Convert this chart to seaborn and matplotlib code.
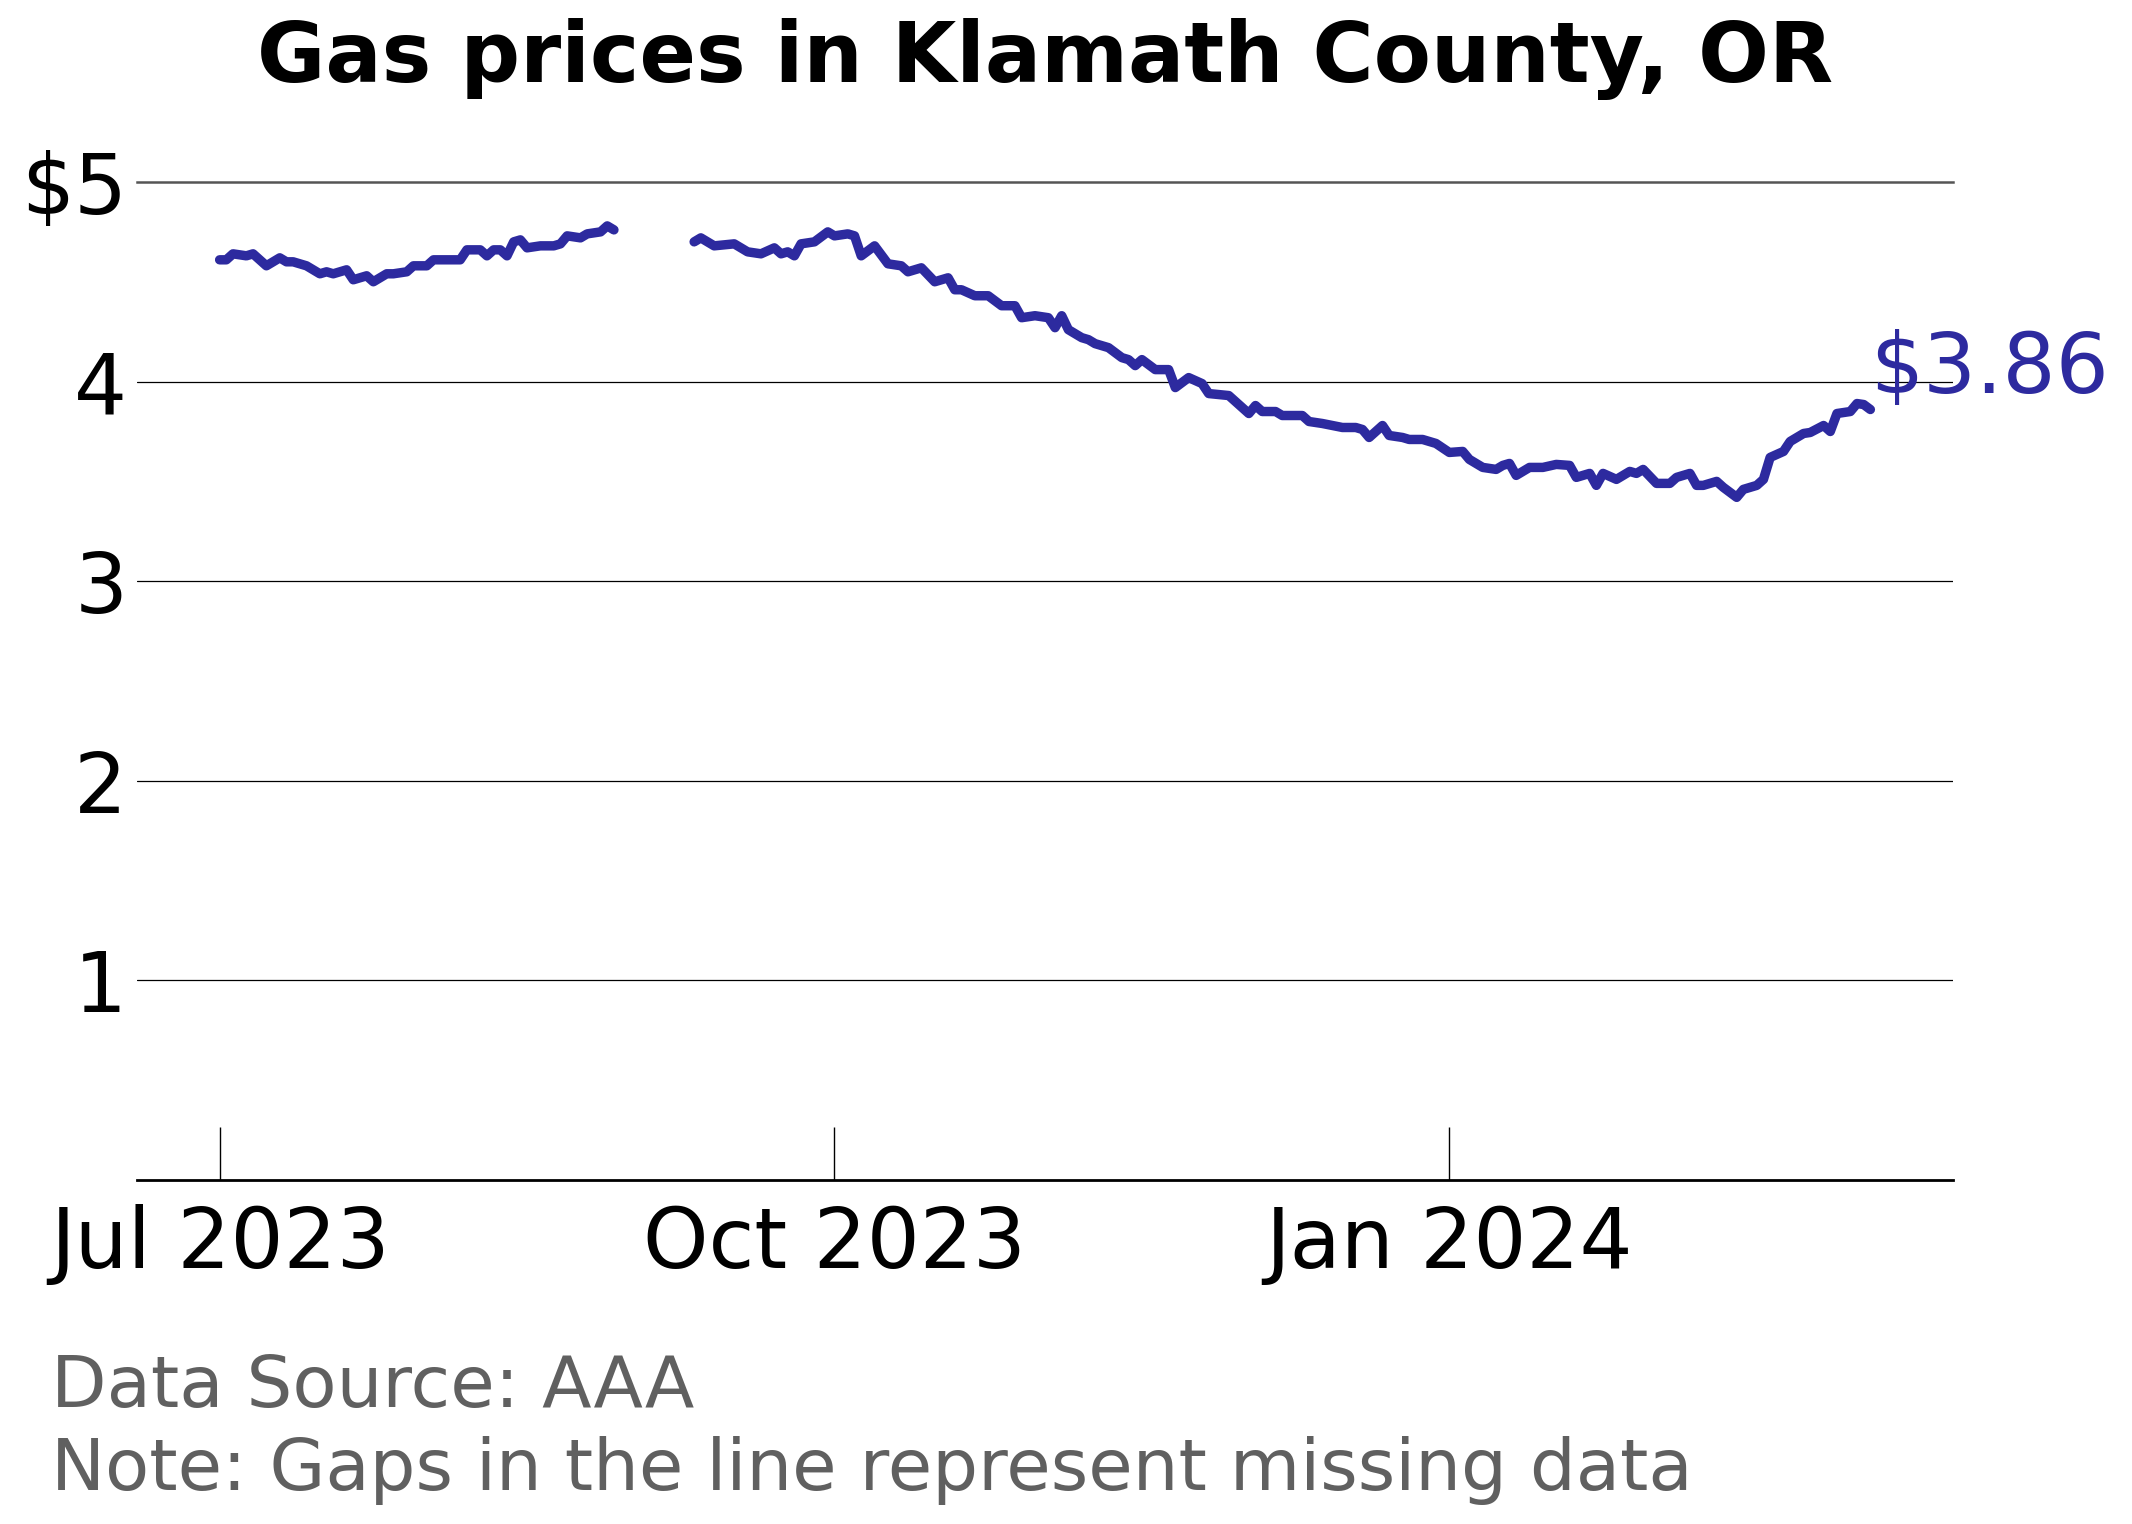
import numpy as np
import pandas as pd
import matplotlib
matplotlib.use("Agg")
import matplotlib.pyplot as plt
import matplotlib.dates as mdates
from matplotlib.ticker import FixedLocator, FixedFormatter
import seaborn as sns

# price readings, two stretches with a hole between them (missing data)
fechas_1 = [
    "2023-07-01", "2023-07-02", "2023-07-03", "2023-07-05", "2023-07-06", "2023-07-08",
    "2023-07-10", "2023-07-11", "2023-07-12", "2023-07-14", "2023-07-16", "2023-07-17",
    "2023-07-18", "2023-07-20", "2023-07-21", "2023-07-23", "2023-07-24", "2023-07-26",
    "2023-07-27", "2023-07-29", "2023-07-30", "2023-08-01", "2023-08-02", "2023-08-04",
    "2023-08-06", "2023-08-07", "2023-08-09", "2023-08-10", "2023-08-11", "2023-08-12",
    "2023-08-13", "2023-08-14", "2023-08-15", "2023-08-16", "2023-08-18", "2023-08-20",
    "2023-08-21", "2023-08-22", "2023-08-24", "2023-08-25", "2023-08-27", "2023-08-28",
    "2023-08-29",
]
precios_1 = [
    4.61, 4.61, 4.64, 4.63, 4.64, 4.58,
    4.62, 4.60, 4.60, 4.58, 4.54, 4.55,
    4.54, 4.56, 4.51, 4.53, 4.50, 4.54,
    4.54, 4.55, 4.58, 4.58, 4.61, 4.61,
    4.61, 4.66, 4.66, 4.63, 4.66, 4.66,
    4.63, 4.70, 4.71, 4.67, 4.68, 4.68,
    4.69, 4.73, 4.72, 4.74, 4.75, 4.78,
    4.76,
]

fechas_2 = [
    "2023-09-10", "2023-09-11", "2023-09-13", "2023-09-16", "2023-09-18", "2023-09-20",
    "2023-09-22", "2023-09-23", "2023-09-24", "2023-09-25", "2023-09-26", "2023-09-28",
    "2023-09-30", "2023-10-01", "2023-10-03", "2023-10-04", "2023-10-05", "2023-10-07",
    "2023-10-09", "2023-10-11", "2023-10-12", "2023-10-14", "2023-10-16", "2023-10-18",
    "2023-10-19", "2023-10-20", "2023-10-22", "2023-10-24", "2023-10-26", "2023-10-28",
    "2023-10-29", "2023-10-31", "2023-11-02", "2023-11-03", "2023-11-04", "2023-11-05",
    "2023-11-07", "2023-11-08", "2023-11-09", "2023-11-11", "2023-11-13", "2023-11-14",
    "2023-11-15", "2023-11-16", "2023-11-18", "2023-11-20", "2023-11-21", "2023-11-23",
    "2023-11-25", "2023-11-26", "2023-11-29", "2023-11-30", "2023-12-02", "2023-12-03",
    "2023-12-04", "2023-12-06", "2023-12-07", "2023-12-10", "2023-12-11", "2023-12-13",
    "2023-12-16", "2023-12-18", "2023-12-19", "2023-12-20", "2023-12-22", "2023-12-23",
    "2023-12-25", "2023-12-26", "2023-12-28", "2023-12-30", "2024-01-01", "2024-01-03",
    "2024-01-04", "2024-01-06", "2024-01-08", "2024-01-09", "2024-01-10", "2024-01-11",
    "2024-01-13", "2024-01-15", "2024-01-17", "2024-01-19", "2024-01-20", "2024-01-22",
    "2024-01-23", "2024-01-24", "2024-01-26", "2024-01-28", "2024-01-29", "2024-01-30",
    "2024-02-01", "2024-02-03", "2024-02-04", "2024-02-06", "2024-02-07", "2024-02-08",
    "2024-02-10", "2024-02-11", "2024-02-13", "2024-02-14", "2024-02-16", "2024-02-17",
    "2024-02-18", "2024-02-20", "2024-02-21", "2024-02-23", "2024-02-24", "2024-02-26",
    "2024-02-27", "2024-02-28", "2024-03-01", "2024-03-02", "2024-03-03", "2024-03-04",
]
precios_2 = [
    4.70, 4.72, 4.68, 4.69, 4.65, 4.64,
    4.67, 4.64, 4.65, 4.63, 4.69, 4.70,
    4.75, 4.73, 4.74, 4.73, 4.63, 4.68,
    4.59, 4.58, 4.55, 4.57, 4.50, 4.52,
    4.46, 4.46, 4.43, 4.43, 4.38, 4.38,
    4.32, 4.33, 4.32, 4.27, 4.33, 4.26,
    4.22, 4.21, 4.19, 4.17, 4.12, 4.11,
    4.08, 4.11, 4.06, 4.06, 3.97, 4.02,
    3.99, 3.94, 3.93, 3.90, 3.84, 3.88,
    3.85, 3.85, 3.83, 3.83, 3.80, 3.79,
    3.77, 3.77, 3.76, 3.72, 3.78, 3.73,
    3.72, 3.71, 3.71, 3.69, 3.645, 3.65,
    3.61, 3.57, 3.56, 3.58, 3.59, 3.53,
    3.57, 3.57, 3.585, 3.58, 3.52, 3.54,
    3.48, 3.54, 3.51, 3.55, 3.54, 3.56,
    3.49, 3.49, 3.52, 3.54, 3.48, 3.48,
    3.50, 3.47, 3.42, 3.46, 3.48, 3.51,
    3.62, 3.65, 3.70, 3.74, 3.745, 3.78,
    3.75, 3.84, 3.85, 3.89, 3.885, 3.86,
]

y_ticks = [1, 2, 3, 4, 5]
y_labels = ["1", "2", "3", "4", "$5"]
color_linea = "#2d2a9f"


def main():
    df = pd.concat([
        pd.DataFrame({"fecha": pd.to_datetime(fechas_1), "precio": precios_1, "tramo": 1}),
        pd.DataFrame({"fecha": pd.to_datetime(fechas_2), "precio": precios_2, "tramo": 2}),
    ], ignore_index=True)

    sns.set_theme(style="white")
    plt.rcParams["font.family"] = ["DejaVu Sans"]
    plt.rcParams["text.color"] = "black"

    fig = plt.figure(figsize=(10.66, 7.62), dpi=200)
    ax = fig.add_axes([0.0643, 0.2257, 0.8517, 0.6549])

    # each stretch drawn on its own so the gap stays open
    for tramo, sub in df.groupby("tramo"):
        sns.lineplot(data=sub, x="fecha", y="precio", ax=ax, color=color_linea,
                     linewidth=3.4, solid_capstyle="round", solid_joinstyle="round")

    ax.set_ylim(0, 5)
    ax.margins(x=0.05)

    for v in y_ticks[:-1]:
        ax.axhline(v, color="black", linewidth=0.45, zorder=0)

    ax.yaxis.set_major_locator(FixedLocator(y_ticks))
    ax.yaxis.set_major_formatter(FixedFormatter(y_labels))
    ax.xaxis.set_major_locator(mdates.MonthLocator(bymonth=[1, 4, 7, 10]))
    ax.xaxis.set_major_formatter(mdates.DateFormatter("%b %Y"))

    ax.tick_params(axis="y", length=0, pad=3.5, labelsize=30, labelcolor="black")
    ax.tick_params(axis="x", direction="in", length=19, width=0.5, color="black",
                   pad=8.5, labelsize=30, labelcolor="black", bottom=True)

    for lado in ["left", "right"]:
        ax.spines[lado].set_visible(False)
    ax.spines["bottom"].set_color("black")
    ax.spines["bottom"].set_linewidth(1.0)
    ax.spines["top"].set_color("#555555")
    ax.spines["top"].set_linewidth(0.9)

    ax.set_xlabel("")
    ax.set_ylabel("")

    ultimo = df.iloc[-1]
    ax.text(ultimo["fecha"], ultimo["precio"], f"${ultimo['precio']:.2f}",
            ha="left", va="bottom", fontsize=30, color=color_linea, clip_on=False)

    ax.set_title("Gas prices in Klamath County, OR", fontsize=30, fontweight="bold",
                 color="black", pad=36)

    fig.text(0.024, 0.0768, "Data Source: AAA", fontsize=26, color="#606060", va="baseline")
    fig.text(0.024, 0.0223, "Note: Gaps in the line represent missing data",
             fontsize=26, color="#606060", va="baseline")

    fig.savefig("out.png", dpi=200)


if __name__ == "__main__":
    main()
